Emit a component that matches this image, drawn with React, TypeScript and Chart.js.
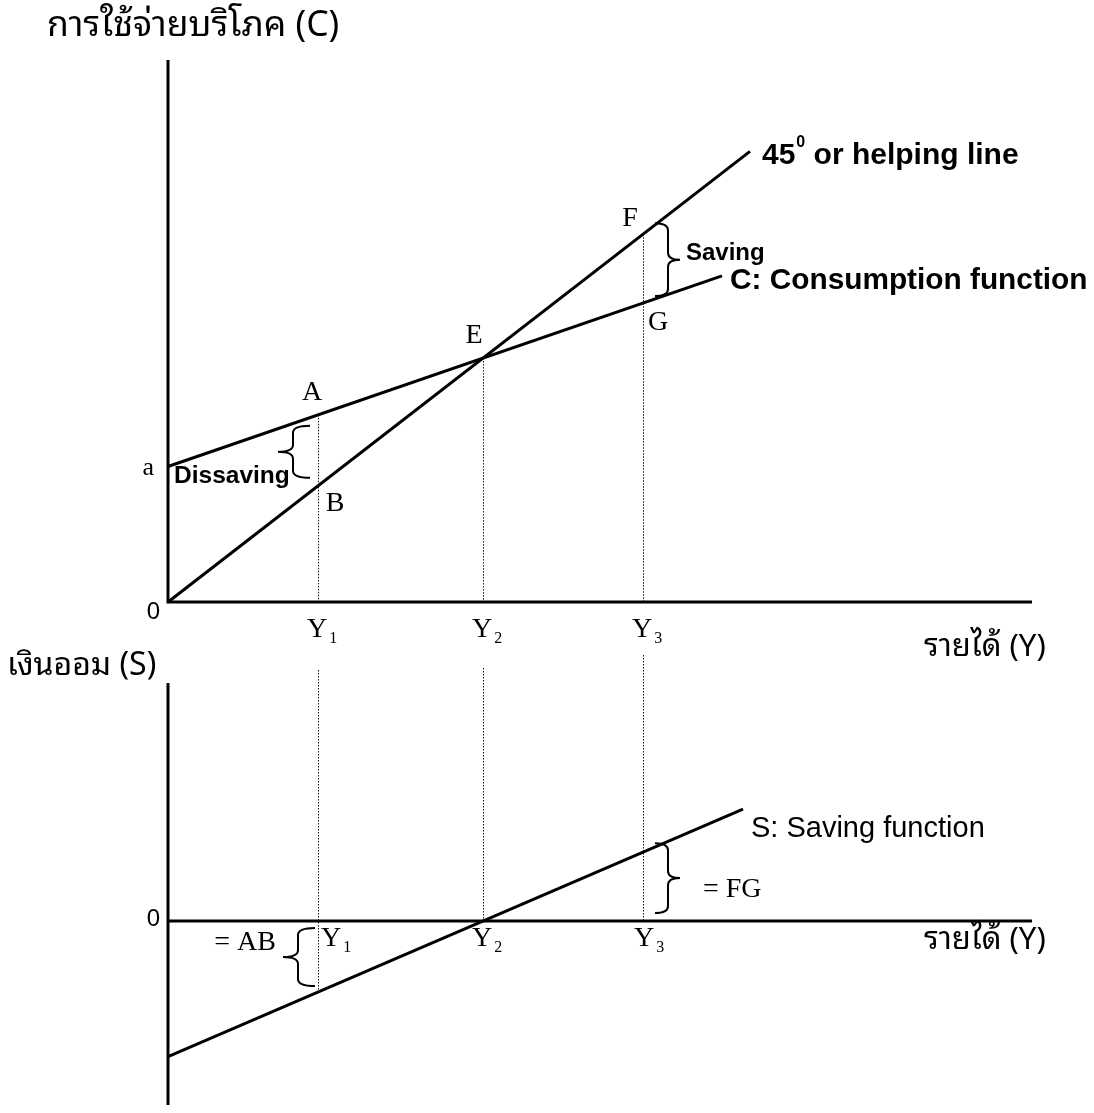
import React, { useEffect, useRef } from "react";
import { Chart, registerables } from "chart.js";

Chart.register(...registerables);

// ---------- data ----------
const incomeLabels = ["Y", "Y", "Y"];
const incomeSubscripts = ["1", "2", "3"];
const incomeLevels = [15, 31.5, 47.5];

const helpingLineX = [0, 58.2];
const helpingLineY = [0, 58.2];

const consumptionX = [0, 55.4];
const consumptionY = [17.5, 42.12];

const savingX = [0, 57.5];
const savingY = [-17.5, 14.44];

const consumptionAtIncome = [24.17, 31.5, 38.61];
const helpingAtIncome = [15, 31.5, 47.5];
const savingAtIncome = [-9.17, 0, 8.89];

const autonomousConsumption = 17.5;

const pointLabelsTop = ["A", "B", "E", "F", "G"];

const SERIF = "'Liberation Serif', 'Times New Roman', serif";
const SANS = "'Liberation Sans', Arial, 'Noto Sans', 'DejaVu Sans', sans-serif";
const THAI = "'Noto Sans Thai Looped', 'Noto Sans Thai', 'Noto Sans', 'Liberation Sans', 'DejaVu Sans', sans-serif";

function pts(xs: number[], ys: number[]) {
  return xs.map((x, i) => ({ x, y: ys[i] }));
}

function drawBrace(ctx: CanvasRenderingContext2D, xEnd: number, xSpine: number, xTip: number, y1: number, y2: number) {
  const mid = (y1 + y2) / 2;
  const r = Math.min(7, (y2 - y1) / 5);
  ctx.save();
  ctx.strokeStyle = "#000";
  ctx.lineWidth = 2;
  ctx.setLineDash([]);
  ctx.beginPath();
  ctx.moveTo(xEnd, y1);
  ctx.quadraticCurveTo(xSpine, y1, xSpine, y1 + r);
  ctx.lineTo(xSpine, mid - r);
  ctx.quadraticCurveTo(xSpine, mid, xTip, mid);
  ctx.quadraticCurveTo(xSpine, mid, xSpine, mid + r);
  ctx.lineTo(xSpine, y2 - r);
  ctx.quadraticCurveTo(xSpine, y2, xEnd, y2);
  ctx.stroke();
  ctx.restore();
}

function text(ctx: CanvasRenderingContext2D, s: string, x: number, y: number, font: string, align: CanvasTextAlign = "left") {
  ctx.save();
  ctx.fillStyle = "#000";
  ctx.font = font;
  ctx.textAlign = align;
  ctx.textBaseline = "middle";
  ctx.fillText(s, x, y);
  ctx.restore();
}

function subLabel(ctx: CanvasRenderingContext2D, main: string, sub: string, x: number, y: number) {
  ctx.save();
  ctx.fillStyle = "#000";
  ctx.textBaseline = "middle";
  ctx.textAlign = "left";
  ctx.font = `28px ${SERIF}`;
  ctx.fillText(main, x, y);
  const w = ctx.measureText(main).width;
  ctx.font = `16px ${SERIF}`;
  ctx.fillText(sub, x + w + 2, y + 9);
  ctx.restore();
}

function dotted(ctx: CanvasRenderingContext2D, x: number, y1: number, y2: number) {
  ctx.save();
  ctx.strokeStyle = "#111";
  ctx.lineWidth = 1;
  ctx.setLineDash([1.5, 1.5]);
  ctx.beginPath();
  ctx.moveTo(Math.round(x) + 0.5, y1);
  ctx.lineTo(Math.round(x) + 0.5, y2);
  ctx.stroke();
  ctx.restore();
}

function axes(ctx: CanvasRenderingContext2D, x0: number, yTop: number, yBot: number, y0: number, xRight: number) {
  ctx.save();
  ctx.strokeStyle = "#000";
  ctx.lineWidth = 3;
  ctx.beginPath();
  ctx.moveTo(x0, yTop);
  ctx.lineTo(x0, yBot);
  ctx.moveTo(x0, y0);
  ctx.lineTo(xRight, y0);
  ctx.stroke();
  ctx.restore();
}

const topPlugin = {
  id: "topAnnotations",
  beforeDatasetsDraw(chart: any) {
    const { ctx, chartArea, scales } = chart;
    const xs = scales.x, ys = scales.y;
    const x0 = xs.getPixelForValue(0);
    const y0 = ys.getPixelForValue(0);
    axes(ctx, x0, chartArea.top, y0 + 1.5, y0, chartArea.right);
    const tops = [consumptionAtIncome[0], helpingAtIncome[1], helpingAtIncome[2]];
    incomeLevels.forEach((v, i) => {
      dotted(ctx, xs.getPixelForValue(v), ys.getPixelForValue(tops[i]), y0);
    });
  },
  afterDatasetsDraw(chart: any) {
    const { ctx, scales } = chart;
    const xs = scales.x, ys = scales.y;
    const px = (v: number) => xs.getPixelForValue(v);
    const py = (v: number) => ys.getPixelForValue(v);
    const x0 = px(0), y0 = py(0);

    // title
    text(ctx, "การใช้จ่ายบริโภค (C)", 47, 26, `35.5px ${THAI}`);
    // origin and intercept
    text(ctx, "0", x0 - 8, y0 + 10, `24px ${SANS}`, "right");
    text(ctx, "a", x0 - 14, py(autonomousConsumption) + 2, `26px ${SERIF}`, "right");

    const xY1 = px(incomeLevels[0]), xY2 = px(incomeLevels[1]), xY3 = px(incomeLevels[2]);
    const f = `28px ${SERIF}`;
    text(ctx, pointLabelsTop[0], xY1 - 6, py(consumptionAtIncome[0]) - 22, f, "center");
    text(ctx, pointLabelsTop[1], xY1 + 17, py(helpingAtIncome[0]) + 18, f, "center");
    text(ctx, pointLabelsTop[2], xY2 - 9, py(helpingAtIncome[1]) - 22, f, "center");
    text(ctx, pointLabelsTop[3], xY3 - 13, py(helpingAtIncome[2]) - 16, f, "center");
    text(ctx, pointLabelsTop[4], xY3 + 15, py(consumptionAtIncome[2]) + 20, f, "center");

    // braces
    drawBrace(ctx, xY1 - 8, xY1 - 25, xY1 - 40, py(consumptionAtIncome[0]) + 11, py(helpingAtIncome[0]) - 8);
    drawBrace(ctx, xY3 + 12, xY3 + 25, xY3 + 37, py(helpingAtIncome[2]) - 11, py(consumptionAtIncome[2]) - 7);
    text(ctx, "Dissaving", x0 + 6, py(autonomousConsumption) + 10, `bold 24.5px ${SANS}`);
    text(ctx, "Saving", xY3 + 43, py(helpingAtIncome[2]) + 19, `bold 24px ${SANS}`);

    // line labels
    const hx = px(helpingLineX[1]), hy = py(helpingLineY[1]);
    ctx.save();
    ctx.fillStyle = "#000";
    ctx.textBaseline = "middle";
    ctx.font = `bold 30px ${SANS}`;
    let cx = hx + 12;
    ctx.fillText("45", cx, hy + 4);
    cx += ctx.measureText("45").width + 1;
    ctx.font = `bold 16px ${SANS}`;
    ctx.fillText("0", cx, hy - 9);
    cx += ctx.measureText("0").width;
    ctx.font = `bold 30px ${SANS}`;
    ctx.fillText(" or helping line", cx, hy + 4);
    ctx.restore();

    text(ctx, "C: Consumption function", px(consumptionX[1]) + 8, py(consumptionY[1]) + 5, `bold 29.8px ${SANS}`);

    // income ticks
    incomeLevels.forEach((v, i) => {
      subLabel(ctx, incomeLabels[i], incomeSubscripts[i], px(v) - 11, y0 + 28);
    });
    text(ctx, "รายได้ (Y)", 924, y0 + 45, `31px ${THAI}`);
  },
};

const bottomPlugin = {
  id: "bottomAnnotations",
  beforeDatasetsDraw(chart: any) {
    const { ctx, chartArea, scales } = chart;
    const xs = scales.x, ys = scales.y;
    const x0 = xs.getPixelForValue(0);
    const y0 = ys.getPixelForValue(0);
    axes(ctx, x0, chartArea.top, chartArea.bottom, y0, chartArea.right);
    const starts = [chartArea.top - 13, chartArea.top - 15, chartArea.top - 28];
    const ends = [savingAtIncome[0], 0, 0];
    incomeLevels.forEach((v, i) => {
      dotted(ctx, xs.getPixelForValue(v), starts[i], ys.getPixelForValue(ends[i]));
    });
  },
  afterDatasetsDraw(chart: any) {
    const { ctx, scales } = chart;
    const xs = scales.x, ys = scales.y;
    const px = (v: number) => xs.getPixelForValue(v);
    const py = (v: number) => ys.getPixelForValue(v);
    const x0 = px(0), y0 = py(0);

    text(ctx, "เงินออม (S)", 7, 26, `32px ${THAI}`);
    text(ctx, "0", x0 - 8, y0 - 2, `24px ${SANS}`, "right");

    const offs = [3, -11, -9];
    incomeLevels.forEach((v, i) => {
      subLabel(ctx, incomeLabels[i], incomeSubscripts[i], px(v) + offs[i], y0 + 18);
    });
    text(ctx, "รายได้ (Y)", 924, y0 + 19, `31px ${THAI}`);

    text(ctx, "S: Saving function", px(savingX[1]) + 8, py(savingY[1]) + 20, `29px ${SANS}`);

    const xY1 = px(incomeLevels[0]), xY3 = px(incomeLevels[2]);
    drawBrace(ctx, xY1 - 3, xY1 - 20, xY1 - 35, y0 + 7, py(savingAtIncome[0]) - 6);
    drawBrace(ctx, xY3 + 12, xY3 + 25, xY3 + 37, py(savingAtIncome[2]) - 9, y0 - 8);
    text(ctx, "= AB", xY1 - 42, y0 + 22, `28px ${SERIF}`, "right");
    text(ctx, "= FG", xY3 + 60, py(savingAtIncome[2]) + 37, `28px ${SERIF}`);
  },
};

function lineDataset(xs: number[], ys: number[]) {
  return {
    data: pts(xs, ys),
    showLine: true,
    borderColor: "#000",
    borderWidth: 3,
    pointRadius: 0,
    fill: false,
    clip: false as any,
    tension: 0,
  };
}

function makeConfig(datasets: any[], yMin: number, yMax: number, padding: any, plugin: any) {
  return {
    type: "scatter" as const,
    data: { datasets },
    options: {
      animation: false as const,
      responsive: false,
      maintainAspectRatio: false,
      layout: { padding },
      plugins: { legend: { display: false }, tooltip: { enabled: false } },
      events: [],
      scales: {
        x: { type: "linear" as const, min: 0, max: 86.4, display: false },
        y: { type: "linear" as const, min: yMin, max: yMax, display: false },
      },
    },
    plugins: [plugin],
  };
}

export default function App() {
  const topRef = useRef<HTMLCanvasElement>(null);
  const botRef = useRef<HTMLCanvasElement>(null);

  useEffect(() => {
    const top = new Chart(
      topRef.current!,
      makeConfig(
        [lineDataset(helpingLineX, helpingLineY), lineDataset(consumptionX, consumptionY)],
        0,
        70,
        { left: 168, right: 62, top: 60, bottom: 98 },
        topPlugin
      ) as any
    );
    const bot = new Chart(
      botRef.current!,
      makeConfig(
        [lineDataset(savingX, savingY)],
        -23.76,
        30.74,
        { left: 168, right: 62, top: 43, bottom: 8 },
        bottomPlugin
      ) as any
    );
    return () => {
      top.destroy();
      bot.destroy();
    };
  }, []);

  return (
    <div style={{ position: "absolute", left: 0, top: 0, width: 1094, height: 1113, background: "#fff" }}>
      <canvas ref={topRef} width={1094} height={700} style={{ position: "absolute", left: 0, top: 0, width: 1094, height: 700 }} />
      <canvas ref={botRef} width={1094} height={473} style={{ position: "absolute", left: 0, top: 640, width: 1094, height: 473 }} />
    </div>
  );
}
